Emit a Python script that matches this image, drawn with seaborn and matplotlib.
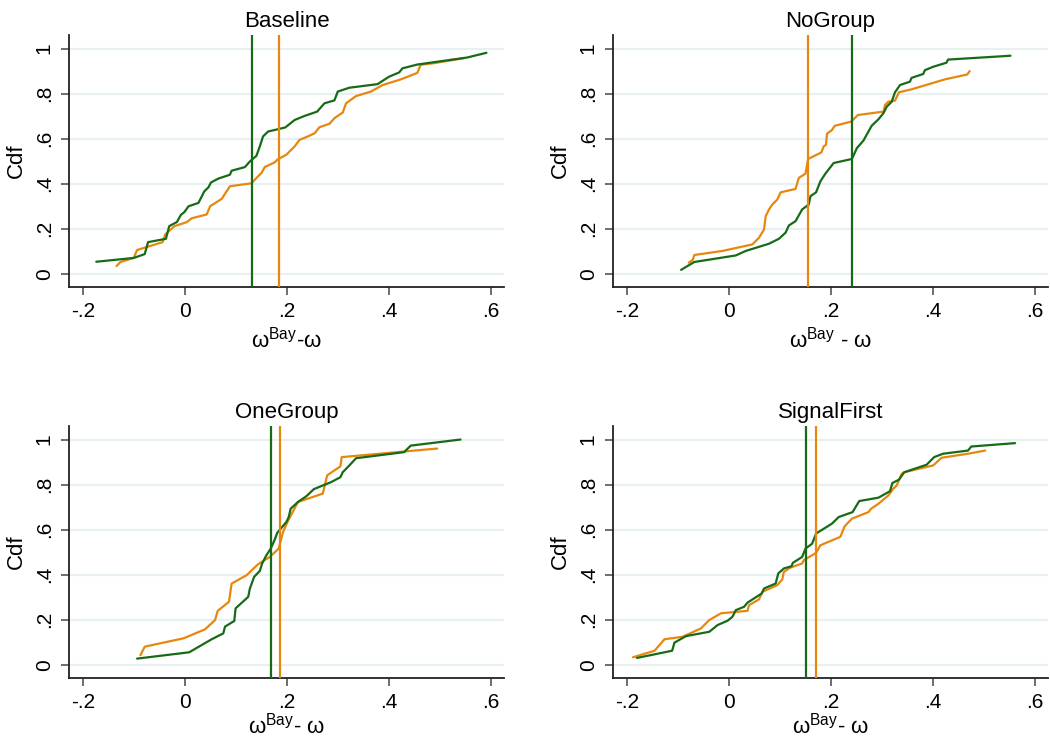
import numpy as np
import pandas as pd
import matplotlib
matplotlib.use("Agg")
import matplotlib.pyplot as plt
import seaborn as sns

baseline_green_x = [-0.174, -0.1005, -0.079, -0.0725, -0.0374, -0.031, -0.016, -0.0081, -0.001, 0.0068,
                    0.0263, 0.038, 0.0459, 0.051, 0.0654, 0.088, 0.0914, 0.1174, 0.1272, 0.140,
                    0.1467, 0.153, 0.163, 0.1824, 0.1967, 0.215, 0.2345, 0.259, 0.2735, 0.293,
                    0.2995, 0.322, 0.3776, 0.400, 0.420, 0.4263, 0.4556, 0.553, 0.591]
baseline_green_y = [0.054, 0.071, 0.088, 0.141, 0.156, 0.212, 0.230, 0.262, 0.275, 0.300,
                    0.315, 0.367, 0.384, 0.406, 0.423, 0.440, 0.458, 0.474, 0.499, 0.524,
                    0.566, 0.610, 0.632, 0.642, 0.650, 0.683, 0.701, 0.720, 0.757, 0.770,
                    0.809, 0.826, 0.842, 0.875, 0.894, 0.912, 0.929, 0.960, 0.981]
baseline_orange_x = [-0.1343, -0.1265, -0.1005, -0.094, -0.0439, -0.0387, -0.0322, -0.0205, 0.0036, 0.0133,
                     0.0426, 0.0491, 0.0719, 0.0881, 0.1304, 0.1402, 0.150, 0.1564, 0.1759, 0.1811,
                     0.1987, 0.215, 0.2247, 0.241, 0.254, 0.2637, 0.2832, 0.293, 0.3093, 0.3158,
                     0.3353, 0.3646, 0.3873, 0.4231, 0.4556, 0.4621, 0.4881, 0.5467]
baseline_orange_y = [0.035, 0.053, 0.071, 0.106, 0.141, 0.175, 0.189, 0.212, 0.230, 0.247,
                     0.264, 0.300, 0.333, 0.389, 0.402, 0.426, 0.448, 0.474, 0.495, 0.507,
                     0.529, 0.566, 0.595, 0.610, 0.624, 0.651, 0.666, 0.691, 0.716, 0.757,
                     0.789, 0.809, 0.838, 0.863, 0.892, 0.928, 0.935, 0.957]

nogroup_green_x = [-0.094, -0.068, 0.0133, 0.0328, 0.0784, 0.0979, 0.1109, 0.1174, 0.1304, 0.1434,
                   0.1564, 0.1597, 0.1707, 0.1792, 0.189, 0.2052, 0.241, 0.2507, 0.2637, 0.2735,
                   0.280, 0.293, 0.3028, 0.3093, 0.319, 0.3255, 0.3353, 0.3548, 0.358, 0.3808,
                   0.3841, 0.4003, 0.4263, 0.4296, 0.5519]
nogroup_green_y = [0.018, 0.053, 0.082, 0.102, 0.134, 0.156, 0.183, 0.215, 0.234, 0.286,
                   0.308, 0.345, 0.362, 0.411, 0.445, 0.492, 0.510, 0.558, 0.592, 0.632,
                   0.658, 0.686, 0.713, 0.742, 0.764, 0.806, 0.838, 0.853, 0.870, 0.887,
                   0.904, 0.919, 0.937, 0.951, 0.968]
nogroup_orange_x = [-0.079, -0.0712, -0.068, -0.0127, 0.0459, 0.0589, 0.0686, 0.0719, 0.0784, 0.0849,
                    0.0946, 0.1011, 0.1304, 0.1369, 0.150, 0.1551, 0.1811, 0.1857, 0.1902, 0.1922,
                    0.202, 0.2072, 0.2397, 0.2527, 0.3028, 0.306, 0.3125, 0.3255, 0.3333, 0.358,
                    0.4231, 0.4673, 0.4719]
nogroup_orange_y = [0.050, 0.062, 0.084, 0.102, 0.131, 0.161, 0.197, 0.256, 0.286, 0.308,
                    0.330, 0.362, 0.377, 0.426, 0.445, 0.510, 0.539, 0.566, 0.573, 0.622,
                    0.639, 0.657, 0.676, 0.705, 0.720, 0.750, 0.764, 0.769, 0.806, 0.819,
                    0.863, 0.885, 0.900]

onegroup_green_x = [-0.094, 0.0081, 0.0524, 0.0751, 0.0784, 0.0966, 0.0992, 0.1239, 0.1272, 0.1356,
                    0.1467, 0.1512, 0.1597, 0.1681, 0.1759, 0.1811, 0.1987, 0.2033, 0.2072, 0.2215,
                    0.2377, 0.2527, 0.2865, 0.3047, 0.3093, 0.3223, 0.3353, 0.4296, 0.4426, 0.5402]
onegroup_green_y = [0.028, 0.056, 0.114, 0.140, 0.170, 0.195, 0.251, 0.302, 0.339, 0.391,
                    0.417, 0.450, 0.487, 0.516, 0.556, 0.587, 0.634, 0.656, 0.693, 0.723,
                    0.748, 0.780, 0.811, 0.833, 0.855, 0.885, 0.917, 0.944, 0.973, 1.0]
onegroup_orange_x = [-0.0875, -0.079, -0.0029, 0.0393, 0.0589, 0.0641, 0.0862, 0.0914, 0.1207, 0.1434,
                     0.1662, 0.1837, 0.1922, 0.202, 0.2215, 0.2702, 0.2787, 0.3047, 0.3073, 0.4946]
onegroup_orange_y = [0.043, 0.081, 0.118, 0.158, 0.199, 0.240, 0.280, 0.361, 0.398, 0.447,
                     0.479, 0.516, 0.590, 0.639, 0.723, 0.760, 0.841, 0.881, 0.922, 0.960]

signal_green_x = [-0.1805, -0.1115, -0.107, -0.0842, -0.0387, -0.0224, -0.0029, 0.0068, 0.0133, 0.0296,
                  0.0361, 0.0641, 0.0686, 0.0914, 0.0966, 0.1076, 0.1226, 0.1252, 0.1434, 0.150,
                  0.163, 0.1707, 0.202, 0.215, 0.2423, 0.2553, 0.293, 0.3158, 0.3203, 0.3333,
                  0.3437, 0.3873, 0.4023, 0.4198, 0.4686, 0.4751, 0.561]
signal_green_y = [0.031, 0.063, 0.099, 0.128, 0.147, 0.177, 0.196, 0.214, 0.243, 0.258,
                  0.276, 0.317, 0.339, 0.361, 0.406, 0.428, 0.438, 0.453, 0.479, 0.516,
                  0.538, 0.583, 0.627, 0.656, 0.678, 0.727, 0.742, 0.771, 0.807, 0.822,
                  0.855, 0.888, 0.922, 0.937, 0.951, 0.969, 0.984]
signal_orange_x = [-0.1883, -0.146, -0.1265, -0.0907, -0.055, -0.0387, -0.0159, 0.0361, 0.0393, 0.0589,
                   0.0654, 0.0946, 0.1044, 0.1076, 0.1207, 0.1434, 0.1467, 0.1707, 0.1792, 0.2182,
                   0.2267, 0.241, 0.2735, 0.2787, 0.293, 0.3125, 0.3223, 0.3288, 0.3385, 0.3437,
                   0.4003, 0.4166, 0.4686, 0.5024]
signal_orange_y = [0.034, 0.063, 0.114, 0.125, 0.162, 0.199, 0.229, 0.240, 0.265, 0.291,
                   0.324, 0.354, 0.379, 0.413, 0.432, 0.450, 0.465, 0.497, 0.531, 0.568,
                   0.615, 0.649, 0.678, 0.693, 0.715, 0.752, 0.782, 0.796, 0.848, 0.855,
                   0.885, 0.919, 0.937, 0.951]

# vertical reference lines (green, orange)
green_vlines = [0.1317, 0.241, 0.1681, 0.150]
orange_vlines = [0.1837, 0.1551, 0.1863, 0.1714]

titles = ["Baseline", "NoGroup", "OneGroup", "SignalFirst"]
xlabels = ["ω$^{\\mathrm{Bay}}$-ω", "ω$^{\\mathrm{Bay}}$ - ω",
           "ω$^{\\mathrm{Bay}}$- ω", "ω$^{\\mathrm{Bay}}$- ω"]
xticks = [-0.2, 0, 0.2, 0.4, 0.6]
xticklabels = ["-.2", "0", ".2", ".4", ".6"]
yticks = [0, 0.2, 0.4, 0.6, 0.8, 1]
yticklabels = ["0", ".2", ".4", ".6", ".8", "1"]

GREEN = "#176b17"
ORANGE = "#e8870e"

sns.set_theme(style="white")
plt.rcParams["font.family"] = ["Liberation Sans", "DejaVu Sans"]
plt.rcParams["mathtext.fontset"] = "custom"
plt.rcParams["mathtext.rm"] = "Liberation Sans"
plt.rcParams["text.color"] = "black"
plt.rcParams["axes.labelcolor"] = "black"
plt.rcParams["xtick.labelcolor"] = "black"
plt.rcParams["ytick.labelcolor"] = "black"

panels = [
    (baseline_green_x, baseline_green_y, baseline_orange_x, baseline_orange_y),
    (nogroup_green_x, nogroup_green_y, nogroup_orange_x, nogroup_orange_y),
    (onegroup_green_x, onegroup_green_y, onegroup_orange_x, onegroup_orange_y),
    (signal_green_x, signal_green_y, signal_orange_x, signal_orange_y),
]

fig = plt.figure(figsize=(10.5, 7.4), dpi=100)
positions = [
    [69 / 1050, 1 - 287 / 740, 435 / 1050, 252 / 740],
    [613 / 1050, 1 - 287 / 740, 435 / 1050, 252 / 740],
    [69 / 1050, 1 - 678 / 740, 435 / 1050, 252 / 740],
    [613 / 1050, 1 - 678 / 740, 435 / 1050, 252 / 740],
]

for i, (gx, gy, ox, oy) in enumerate(panels):
    ax = fig.add_axes(positions[i])
    ax.grid(False)
    for t in yticks:
        ax.axhline(t, color="#e9f0f2", lw=1.6, zorder=0)
    sns.lineplot(x=ox, y=oy, sort=False, color=ORANGE, lw=1.6, ax=ax, zorder=2)
    sns.lineplot(x=gx, y=gy, sort=False, color=GREEN, lw=1.6, ax=ax, zorder=3)
    ax.axvline(green_vlines[i], color=GREEN, lw=1.6, zorder=4)
    ax.axvline(orange_vlines[i], color=ORANGE, lw=1.6, zorder=4)

    ax.set_xlim(-0.2275, 0.6255)
    ax.set_ylim(-0.058, 1.06)
    ax.set_xticks(xticks)
    ax.set_xticklabels(xticklabels)
    ax.set_yticks(yticks)
    ax.set_yticklabels(yticklabels, rotation=90, va="center")
    ax.tick_params(axis="both", direction="out", length=6, width=1.2,
                   color="#555555", labelsize=15, pad=5, bottom=True, left=True)
    for side in ["top", "right"]:
        ax.spines[side].set_visible(False)
    for side in ["left", "bottom"]:
        ax.spines[side].set_color("#222222")
        ax.spines[side].set_linewidth(1.3)
    ax.set_title(titles[i], fontsize=16, pad=6)
    # bottom row labels sit close to the figure edge, keep them inside
    ax.set_xlabel(xlabels[i], fontsize=16, labelpad=4 if i < 2 else 0)
    ax.set_ylabel("Cdf", fontsize=16, labelpad=6)

fig.savefig("out.png", dpi=100)
